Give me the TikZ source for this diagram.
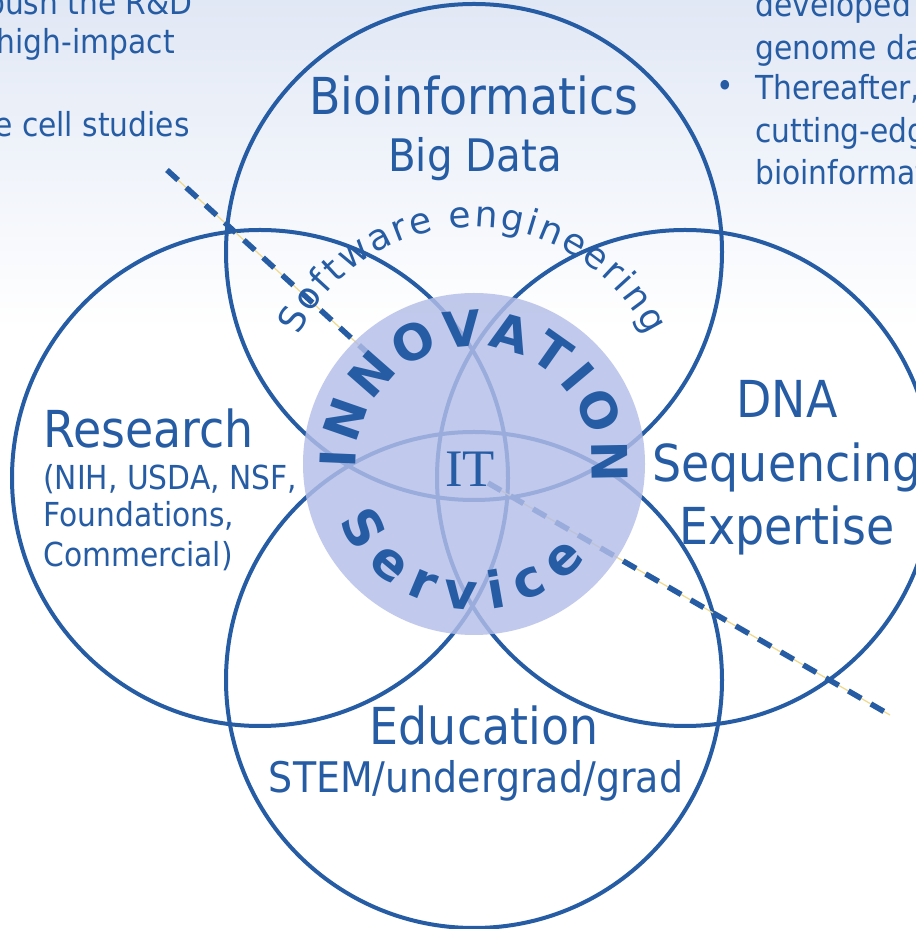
\documentclass[tikz,border=0pt]{standalone}
\usepackage{fontspec}
\usepackage{xcolor}
\usepackage{tikz}
\usetikzlibrary{decorations.text}
\newfontfamily\labelfont{DejaVu Sans}[FakeStretch=0.9]
\newfontfamily\arcfont{DejaVu Sans}
\newfontfamily\itfont{Liberation Serif}
\definecolor{ink}{HTML}{265CA4}
\definecolor{core}{HTML}{B4BEE8}
\definecolor{skytop}{HTML}{E1E8F5}
\definecolor{sand}{HTML}{EED98F}

\begin{document}
\begin{tikzpicture}[
 x=0.2mm, y=0.2mm,
 ring/.style={draw=ink,line width=0.8mm},
 cut/.style={draw=ink,line width=1.1mm,dash pattern=on 3mm off 2.2mm},
 cutbase/.style={draw=sand,line width=0.25mm},
 head/.style={text=ink,inner sep=0,anchor=base,font=\labelfont\fontsize{29}{34}\selectfont},
 sub/.style={text=ink,inner sep=0,anchor=base,font=\labelfont\fontsize{25.5}{30}\selectfont},
 note/.style={text=ink,inner sep=0,font=\labelfont\fontsize{18.8}{22}\selectfont}
]
\useasboundingbox (0,0) rectangle (916,929);
\clip (0,0) rectangle (916,929);
\fill[white] (0,0) rectangle (916,929);
\shade[top color=skytop,bottom color=white] (0,600) rectangle (916,929);

% slide text around the rings
\node[note,anchor=base east] (lt1) at (193,914) {push the R\&D};
\node[note,anchor=base east] (lt2) at (175,875) {high-impact};
\node[note,anchor=base east] (lt3) at (190,792) {e cell studies};
\node[note,anchor=base west] (rt1) at (755,912) {developed};
\node[note,anchor=base west] (rt2) at (755,869) {genome data};
\node[note,anchor=base west] (rt3) at (755,829) {Thereafter,};
\node[note,anchor=base west] (rt4) at (755,786) {cutting-edge};
\node[note,anchor=base west] (rt5) at (755,744) {bioinformatics};
\node[note] (dot) at (725,840) {\textbullet};

% four rings
\draw[ring] (474,677) circle[radius=248];
\draw[ring] (260,451) circle[radius=248];
\draw[ring] (685,451) circle[radius=248];
\draw[ring] (474,249) circle[radius=248];

% dashed cuts
\coordinate (cutA1) at (167,759); \coordinate (cutA2) at (372,572);
\coordinate (cutB1) at (488,446); \coordinate (cutB2) at (890,214);
\foreach \a/\b in {cutA1/cutA2,cutB1/cutB2} {
  \draw[cutbase] (\a) -- (\b);
  \draw[cut] (\a) -- (\b);
}

% core disc
\fill[core,fill opacity=0.82] (474,465) circle[radius=171];

\node[head] (bioinf) at (474,814) {Bioinformatics};
\node[sub] (bigdata) at (475,757) {Big Data};
\node[head,anchor=base west] (research) at (43,481) {Research};
\node[note,anchor=base west] (fund1) at (43,439) {(NIH, USDA, NSF,};
\node[note,anchor=base west] (fund2) at (43,402) {Foundations,};
\node[note,anchor=base west] (fund3) at (43,362) {Commercial)};
\node[head] (dna) at (787,511) {DNA};
\node[head] (seq) at (787,447) {Sequencing};
\node[head] (expert) at (787,384) {Expertise};
\node[head] (edu) at (484,184) {Education};
\node[sub,font=\labelfont\fontsize{24}{29}\selectfont] (stem) at (476,136) {STEM/undergrad/grad};
\node[text=ink,inner sep=0,anchor=base,font=\itfont\fontsize{30}{36}\selectfont] (it) at (470,442) {IT};

% lettering on arcs
\path[decorate,decoration={text along path,text align=fit to path,
  text={|\arcfont\fontsize{20.5}{24}\selectfont\color{ink}|Software engineering}}]
  (473,508) ++(154:194) arc[start angle=154,end angle=26,radius=194];
\path[decorate,decoration={text along path,text align=fit to path,
  text={|\arcfont\bfseries\fontsize{28}{32}\selectfont\color{ink}|INNOVATION}}]
  (474,465) ++(182:118) arc[start angle=182,end angle=-9,radius=118];
\path[decorate,decoration={text along path,text align=fit to path,
  text={|\arcfont\bfseries\fontsize{29}{33}\selectfont\color{ink}|Service}}]
  (474,465) ++(203:146) arc[start angle=203,end angle=320,radius=146];
\end{tikzpicture}
\end{document}
